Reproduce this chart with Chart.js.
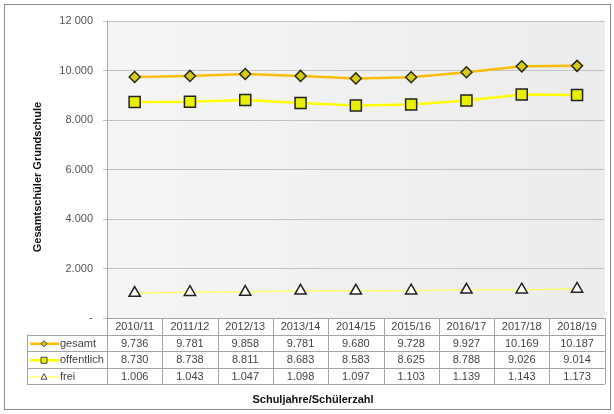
<!DOCTYPE html>
<html>
<head>
<meta charset="utf-8">
<script src="https://cdn.jsdelivr.net/npm/chart.js@4/dist/chart.umd.min.js"></script>
<style>
    html, body { margin: 0; padding: 0; background: #fff; }
    #wrap { position: relative; width: 614px; height: 414px; }
</style>
</head>
<body>
<div id="wrap"><canvas id="chart"></canvas></div>
<script>
// Daten
const schuljahre = ['2010/11', '2011/12', '2012/13', '2013/14', '2014/15', '2015/16', '2016/17', '2017/18', '2018/19'];
const gesamt = [9736, 9781, 9858, 9781, 9680, 9728, 9927, 10169, 10187];
const offentlich = [8730, 8738, 8811, 8683, 8583, 8625, 8788, 9026, 9014];
const frei = [1006, 1043, 1047, 1098, 1097, 1103, 1139, 1143, 1173];
const yTicks = [0, 2000, 4000, 6000, 8000, 10000, 12000];
const yTickLabels = ['-', '2.000', '4.000', '6.000', '8.000', '10.000', '12 000'];

const FONT = '"Liberation Sans", Arial, sans-serif';

// Tausenderpunkt wie im Original
function formatZahl(n) {
    return String(n).replace(/\B(?=(\d{3})+(?!\d))/g, '.');
}

// ============================================
// HINTERGRUND + RAHMEN
// ============================================
const hintergrundPlugin = {
    id: 'hintergrund',
    beforeDraw(chart) {
        const { ctx, chartArea: a } = chart;
        ctx.save();
        ctx.fillStyle = '#fff';
        ctx.fillRect(0, 0, chart.width, chart.height);
        ctx.strokeStyle = '#8a8a8a';
        ctx.lineWidth = 1;
        ctx.strokeRect(4.5, 4.5, 606, 405);
        const grad = ctx.createLinearGradient(a.left, 0, a.right, 0);
        grad.addColorStop(0, '#f5f5f5');
        grad.addColorStop(1, '#ececec');
        ctx.fillStyle = grad;
        ctx.fillRect(a.left, a.top, a.right - a.left, a.bottom - a.top);
        ctx.restore();
    }
};

// ============================================
// DATENTABELLE UNTER DEM DIAGRAMM
// ============================================
function zeichneMarker(ctx, style, x, y, r, fill) {
    ctx.beginPath();
    if (style === 'rectRot') {
        ctx.moveTo(x, y - r); ctx.lineTo(x + r, y); ctx.lineTo(x, y + r); ctx.lineTo(x - r, y);
    } else if (style === 'rect') {
        ctx.rect(x - r, y - r, 2 * r, 2 * r);
    } else {
        ctx.moveTo(x, y - r); ctx.lineTo(x + r, y + r * 0.8); ctx.lineTo(x - r, y + r * 0.8);
    }
    ctx.closePath();
    ctx.fillStyle = fill;
    ctx.fill();
    ctx.stroke();
}

const tabellePlugin = {
    id: 'datentabelle',
    afterDraw(chart) {
        const { ctx, chartArea: a, scales: { x } } = chart;
        const rowH = 16.5;
        const top = a.bottom;
        const n = schuljahre.length;
        const colW = (a.right - a.left) / n;
        const legLeft = 27;
        const bottom = top + rowH * 4;

        ctx.save();
        ctx.strokeStyle = '#a4a4a4';
        ctx.lineWidth = 1;
        ctx.beginPath();
        ctx.moveTo(a.left, top + 0.5); ctx.lineTo(a.right, top + 0.5);
        for (let r = 1; r <= 4; r++) {
            const yy = Math.round(top + rowH * r) + 0.5;
            ctx.moveTo(legLeft, yy); ctx.lineTo(a.right, yy);
        }
        for (let i = 0; i <= n; i++) {
            const xx = Math.round(a.left + colW * i) + 0.5;
            ctx.moveTo(xx, top); ctx.lineTo(xx, bottom);
        }
        ctx.moveTo(legLeft + 0.5, top + rowH); ctx.lineTo(legLeft + 0.5, bottom);
        ctx.stroke();

        ctx.font = '11px ' + FONT;
        ctx.fillStyle = '#444';
        ctx.textAlign = 'center';
        ctx.textBaseline = 'middle';
        schuljahre.forEach((s, i) => {
            ctx.fillText(s, x.getPixelForValue(i), top + rowH / 2 + 1);
        });

        chart.data.datasets.forEach((ds, r) => {
            const cy = top + rowH * (r + 1.5) + 1;
            ctx.textAlign = 'center';
            ctx.fillStyle = '#444';
            ds.data.forEach((v, i) => {
                ctx.fillText(formatZahl(v), x.getPixelForValue(i), cy);
            });
            // Legende
            ctx.strokeStyle = ds.borderColor;
            ctx.lineWidth = ds.borderWidth;
            ctx.beginPath();
            ctx.moveTo(legLeft + 3, cy); ctx.lineTo(legLeft + 32, cy);
            ctx.stroke();
            ctx.strokeStyle = '#444';
            ctx.lineWidth = 1;
            zeichneMarker(ctx, ds.pointStyle, legLeft + 17, cy, 3, ds.pointBackgroundColor);
            ctx.textAlign = 'left';
            ctx.fillStyle = '#444';
            ctx.fillText(ds.label, legLeft + 33, cy);
        });

        // Achsentitel
        ctx.font = 'bold 11px ' + FONT;
        ctx.fillStyle = '#111';
        ctx.textAlign = 'center';
        ctx.fillText('Schuljahre/Schülerzahl', 313, 400);
        ctx.translate(38, 177);
        ctx.rotate(-Math.PI / 2);
        ctx.fillText('Gesamtschüler Grundschule', 0, 0);
        ctx.restore();
    }
};

new Chart(document.getElementById('chart'), {
    type: 'line',
    data: {
        labels: schuljahre,
        datasets: [
            {
                label: 'gesamt',
                data: gesamt,
                borderColor: '#fbbd08',
                borderWidth: 2.5,
                pointStyle: 'rectRot',
                pointRadius: 5.5,
                pointBackgroundColor: '#d2cc14',
                pointBorderColor: '#2a2a10',
                pointBorderWidth: 1.5
            },
            {
                label: 'offentlich',
                data: offentlich,
                borderColor: '#ffff00',
                borderWidth: 2.5,
                pointStyle: 'rect',
                pointRadius: 7.8,
                pointBackgroundColor: '#e8f000',
                pointBorderColor: '#222',
                pointBorderWidth: 1.5
            },
            {
                label: 'frei',
                data: frei,
                borderColor: '#ffff70',
                borderWidth: 1.5,
                pointStyle: 'triangle',
                pointRadius: 6.5,
                pointBackgroundColor: '#ffffff',
                pointBorderColor: '#222',
                pointBorderWidth: 1.5
            }
        ]
    },
    options: {
        responsive: true,
        maintainAspectRatio: false,
        animation: false,
        layout: { padding: { left: 10, right: 9, top: 21, bottom: 0 } },
        plugins: {
            legend: { display: false },
            tooltip: { enabled: false }
        },
        elements: { line: { tension: 0 } },
        scales: {
            x: {
                offset: true,
                grid: { display: false },
                border: { display: false },
                ticks: { display: false },
                afterFit: s => { s.height = 96; }
            },
            y: {
                min: 0,
                max: 12000,
                afterBuildTicks: s => { s.ticks = yTicks.map(v => ({ value: v })); },
                afterFit: s => { s.width = 97; },
                grid: { color: '#c2c2c2', tickLength: 4 },
                border: { color: '#a8a8a8' },
                ticks: {
                    padding: 10,
                    color: '#555',
                    font: { family: FONT, size: 11 },
                    callback: v => yTickLabels[yTicks.indexOf(v)]
                }
            }
        }
    },
    plugins: [hintergrundPlugin, tabellePlugin]
});
</script>
</body>
</html>
